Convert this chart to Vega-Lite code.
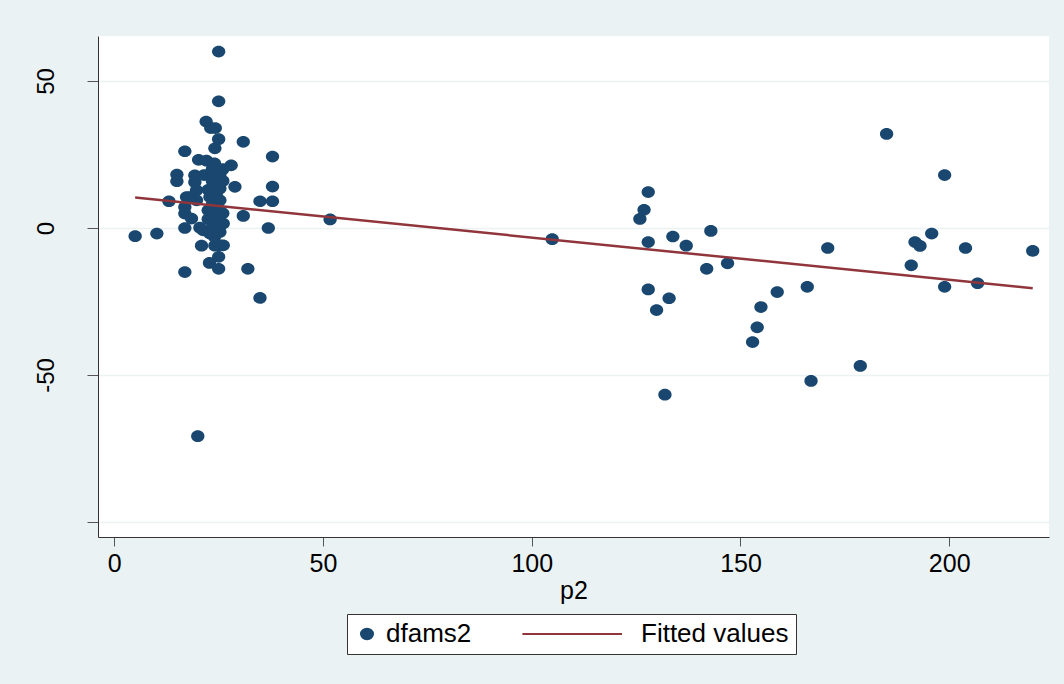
{
  "$schema": "https://vega.github.io/schema/vega-lite/v6.json",
  "width": 951,
  "height": 501,
  "autosize": {"type": "none"},
  "padding": {"left": 98, "top": 36, "right": 15, "bottom": 147},
  "background": "#eaf2f3",
  "config": {"view": {"stroke": null, "fill": "white"}, "font": "Liberation Sans"},
  "datasets": {
    "pts": [
      {"p2": 5, "dfams2": -2.8}, {"p2": 10.2, "dfams2": -1.9}, {"p2": 13.1, "dfams2": 9.1}, {"p2": 15, "dfams2": 18.2},
      {"p2": 15, "dfams2": 15.9}, {"p2": 16.9, "dfams2": 26.1}, {"p2": 16.9, "dfams2": 7.1}, {"p2": 16.9, "dfams2": 4.9},
      {"p2": 16.9, "dfams2": 0}, {"p2": 16.9, "dfams2": -15}, {"p2": 17.3, "dfams2": 10.5}, {"p2": 18.1, "dfams2": 10.5},
      {"p2": 18.5, "dfams2": 3.2}, {"p2": 19.3, "dfams2": 17.9}, {"p2": 19.3, "dfams2": 15.6}, {"p2": 19.7, "dfams2": 12.8},
      {"p2": 19.7, "dfams2": 9.4}, {"p2": 20.2, "dfams2": 23.2}, {"p2": 20, "dfams2": -70.8}, {"p2": 20.5, "dfams2": 0.1},
      {"p2": 20.9, "dfams2": -6}, {"p2": 21.3, "dfams2": -0.8}, {"p2": 21.5, "dfams2": 18}, {"p2": 22, "dfams2": 36.2},
      {"p2": 22.1, "dfams2": 22.9}, {"p2": 22.5, "dfams2": 6}, {"p2": 22.5, "dfams2": 3}, {"p2": 22.5, "dfams2": 13},
      {"p2": 22.9, "dfams2": 10.5}, {"p2": 22.8, "dfams2": -11.9}, {"p2": 22.9, "dfams2": -1.9}, {"p2": 23.1, "dfams2": 34},
      {"p2": 23.5, "dfams2": 20}, {"p2": 23.5, "dfams2": 16}, {"p2": 23.5, "dfams2": 8}, {"p2": 23.5, "dfams2": 0},
      {"p2": 24.1, "dfams2": 27.1}, {"p2": 24.2, "dfams2": 34}, {"p2": 24.1, "dfams2": -6}, {"p2": 24, "dfams2": 22},
      {"p2": 24, "dfams2": 18}, {"p2": 24, "dfams2": 4}, {"p2": 24, "dfams2": -3}, {"p2": 25, "dfams2": 60},
      {"p2": 25, "dfams2": 43.1}, {"p2": 25, "dfams2": 30.2}, {"p2": 25, "dfams2": -9.8}, {"p2": 25, "dfams2": -13.9},
      {"p2": 25.3, "dfams2": 18.4}, {"p2": 25.3, "dfams2": 13.4}, {"p2": 25.3, "dfams2": 9.4}, {"p2": 25.3, "dfams2": 6},
      {"p2": 25.3, "dfams2": 2}, {"p2": 25.3, "dfams2": -1.4}, {"p2": 25.3, "dfams2": -5.9}, {"p2": 24.5, "dfams2": 12},
      {"p2": 24.5, "dfams2": 15}, {"p2": 26.1, "dfams2": -5.9}, {"p2": 26.1, "dfams2": 1.5}, {"p2": 26, "dfams2": 20},
      {"p2": 26, "dfams2": 16}, {"p2": 26, "dfams2": 5}, {"p2": 28, "dfams2": 21.3}, {"p2": 28.9, "dfams2": 14},
      {"p2": 30.9, "dfams2": 29.3}, {"p2": 30.9, "dfams2": 4.1}, {"p2": 32, "dfams2": -13.9}, {"p2": 34.9, "dfams2": 9.1},
      {"p2": 34.9, "dfams2": -23.8}, {"p2": 36.9, "dfams2": 0}, {"p2": 37.9, "dfams2": 24.3}, {"p2": 37.9, "dfams2": 14.1},
      {"p2": 37.9, "dfams2": 9.1}, {"p2": 51.7, "dfams2": 2.9},
      {"p2": 104.9, "dfams2": -3.8}, {"p2": 125.9, "dfams2": 3.1}, {"p2": 126.9, "dfams2": 6.2}, {"p2": 127.9, "dfams2": 12.2},
      {"p2": 127.9, "dfams2": -4.8}, {"p2": 127.9, "dfams2": -20.9}, {"p2": 131.9, "dfams2": -56.7}, {"p2": 129.9, "dfams2": -27.9},
      {"p2": 132.9, "dfams2": -23.9}, {"p2": 133.8, "dfams2": -2.9}, {"p2": 137, "dfams2": -6}, {"p2": 142.9, "dfams2": -1},
      {"p2": 141.9, "dfams2": -13.9}, {"p2": 146.9, "dfams2": -12}, {"p2": 152.9, "dfams2": -38.8}, {"p2": 154, "dfams2": -33.8},
      {"p2": 154.9, "dfams2": -26.9}, {"p2": 158.8, "dfams2": -21.8}, {"p2": 166, "dfams2": -20}, {"p2": 166.9, "dfams2": -52},
      {"p2": 170.9, "dfams2": -6.8}, {"p2": 178.7, "dfams2": -46.9}, {"p2": 185, "dfams2": 32}, {"p2": 190.9, "dfams2": -12.7},
      {"p2": 191.8, "dfams2": -4.8}, {"p2": 193, "dfams2": -6.1}, {"p2": 195.8, "dfams2": -1.9}, {"p2": 198.9, "dfams2": 18},
      {"p2": 198.9, "dfams2": -20}, {"p2": 203.9, "dfams2": -6.8}, {"p2": 206.8, "dfams2": -18.8}, {"p2": 220, "dfams2": -7.8}
    ],
    "fit": [
      {"p2": 5, "fitted": 10.4},
      {"p2": 220, "fitted": -20.5}
    ]
  },
  "layer": [
    {
      "data": {"name": "pts"},
      "mark": {"type": "point", "filled": true, "opacity": 1, "size": 177},
      "encoding": {
        "x": {
          "field": "p2", "type": "quantitative",
          "scale": {"domain": [-3.9, 223.9], "nice": false, "zero": false},
          "axis": {
            "values": [0, 50, 100, 150, 200], "grid": false, "tickSize": 9, "tickColor": "#555", "domainColor": "#333",
            "labelPadding": 5, "labelFontSize": 25, "labelColor": "black", "labelFlush": false,
            "title": "p2", "titleFontSize": 25, "titleFontWeight": "normal", "titleColor": "black", "titlePadding": 2
          }
        },
        "y": {
          "field": "dfams2", "type": "quantitative",
          "scale": {"domain": [-105.1, 65.3], "nice": false, "zero": false},
          "axis": {
            "values": [-100, -50, 0, 50], "labelExpr": "datum.value === -100 ? '' : '' + datum.value",
            "grid": true, "gridColor": "#eaf2f3", "gridWidth": 1.5, "tickSize": 11, "tickColor": "#555", "domainColor": "#333",
            "labelAngle": -90, "labelAlign": "center", "labelBaseline": "bottom", "labelPadding": 29,
            "labelFontSize": 24, "labelColor": "black", "title": null
          }
        },
        "color": {
          "datum": "dfams2",
          "scale": {"domain": ["dfams2", "Fitted values"], "range": ["#1a476f", "#90353b"]},
          "legend": {
            "title": null, "orient": "none", "legendX": 249, "legendY": 578, "direction": "horizontal",
            "strokeColor": "#333", "fillColor": "white", "padding": 7, "labelFontSize": 26, "labelColor": "black",
            "labelOffset": 6, "symbolSize": 144, "symbolStrokeWidth": 2, "symbolOpacity": 1, "columnPadding": 46
          }
        },
        "shape": {
          "datum": "dfams2",
          "scale": {"domain": ["dfams2", "Fitted values"], "range": ["M-1,0A1,0.88,0,1,1,1,0A1,0.88,0,1,1,-1,0Z", "M-16.6,0L0,0"]},
          "legend": {
            "title": null, "orient": "none", "legendX": 249, "legendY": 578, "direction": "horizontal",
            "strokeColor": "#333", "fillColor": "white", "padding": 7, "labelFontSize": 26, "labelColor": "black",
            "labelOffset": 6, "symbolSize": 144, "symbolStrokeWidth": 2, "symbolOpacity": 1, "columnPadding": 46
          }
        }
      }
    },
    {
      "data": {"name": "fit"},
      "mark": {"type": "line", "strokeWidth": 2.5},
      "encoding": {
        "x": {"field": "p2", "type": "quantitative"},
        "y": {"field": "fitted", "type": "quantitative"},
        "color": {"datum": "Fitted values"}
      }
    }
  ]
}
